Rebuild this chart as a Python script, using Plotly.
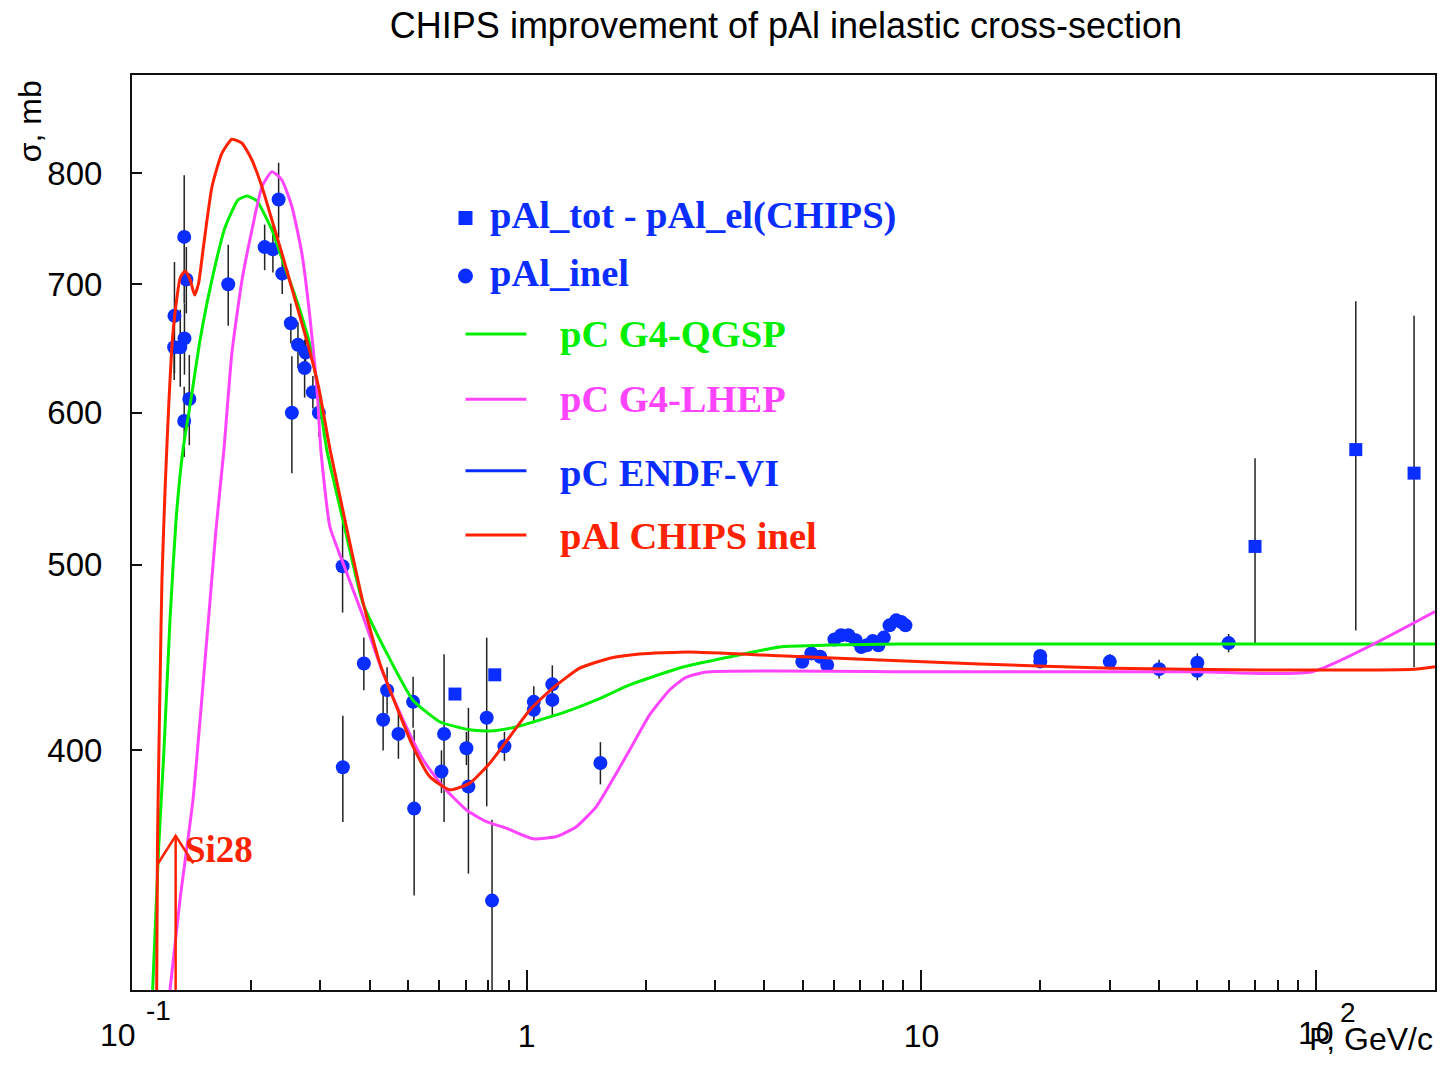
import math
import plotly.graph_objects as go

# ---------------- data ----------------
# pAl_inel measurements (circles): momentum P [GeV/c], sigma [mb], error [mb]
inel_p = [0.1281, 0.1279, 0.1325, 0.1356, 0.1373, 0.1358, 0.1397, 0.1356,
          0.1753, 0.2168, 0.2275, 0.2352, 0.2402, 0.2526, 0.2633, 0.2753,
          0.2737, 0.2872, 0.2974, 0.2541,
          0.3416, 0.3421, 0.3867, 0.4429, 0.4327, 0.4731, 0.5154, 0.5185,
          0.6174, 0.6081, 0.7034, 0.7117, 0.7918, 0.8168, 0.878, 1.042,
          1.042, 1.161, 1.161, 1.537,
          4.99, 5.26, 5.54, 5.77, 6.02, 6.26, 6.53, 6.81, 7.04, 7.27, 7.53,
          7.78, 8.03, 8.30, 8.63, 8.89, 9.11,
          20, 20, 30, 40, 50, 50, 60]
inel_sigma = [674, 649, 649, 741, 704, 656, 610, 594,
              700, 732, 730, 775, 709, 668, 651, 645,
              633, 615, 600, 600,
              499, 392, 444, 430, 415, 408, 424, 373,
              408, 390, 401, 383, 416, 334, 402, 424,
              420, 433, 425, 394,
              444.9, 449.4, 447.6, 443.2, 457.0, 459.3, 459.3, 456.6, 452.9,
              453.8, 456.2, 453.8, 458.0, 464.8, 467.6, 466.7, 464.8,
              448, 445, 445, 441, 444.4, 440.1, 455]
inel_err = [45, 25, 30, 57, 28, 28, 33, 25,
            34, 20, 20, 35, 17, 16, 18, 15,
            22, 12, 17, 42,
            27, 25, 14, 12, 15, 12, 13, 37,
            41, 10, 8, 38, 42, 34, 7, 8,
            6, 10, 8, 10,
            2, 2, 2, 2, 2, 2, 2, 2, 2, 2, 2, 2, 2, 2, 2, 2, 2,
            3, 3, 4, 5, 5, 5, 5]

# pAl_tot - pAl_el(CHIPS) (squares)
totel_p = [0.658, 0.830, 70, 126, 177]
totel_sigma = [428, 438, 511, 574, 558]
totel_err = [0, 0, 57, 112, 116]

# pC G4-QGSP (green)
qgsp_p = [0.1128, 0.1168, 0.1205, 0.1248, 0.1293, 0.1346, 0.1410, 0.1487,
          0.1594, 0.1719, 0.1855, 0.1955, 0.2073, 0.2262, 0.2439, 0.2648,
          0.2856, 0.3116, 0.3422, 0.3844, 0.4421, 0.5145, 0.6021, 0.7173,
          0.8203, 0.9434, 1.0416, 1.2334, 1.5037, 1.823, 2.439, 3.265,
          4.371, 5.848, 8.795, 20, 50, 100, 200]
qgsp_sigma = [300, 355.8, 400.2, 467.8, 527.6, 573.7, 609.3, 654.6,
              703.7, 748.9, 774.5, 778.3, 773.6, 747.2, 714.7, 681.1,
              644.7, 573.7, 527.6, 477.5, 449.5, 425.0, 414.0, 410.0,
              409.5, 411.5, 414.0, 418.4, 425.0, 432.7, 441.6, 447.5,
              452.9, 453.9, 454.5, 454.5, 454.5, 454.5, 454.5]

# pC G4-LHEP (magenta)
lhep_p = [0.1248, 0.1323, 0.1427, 0.1539, 0.1632, 0.1709, 0.1791, 0.19,
          0.2013, 0.2134, 0.2262, 0.2397, 0.2542, 0.2694, 0.2828, 0.2939,
          0.3009, 0.3172, 0.3427, 0.3851, 0.4327, 0.486, 0.5464, 0.6139,
          0.7034, 0.7907, 0.8884, 1.0373, 1.189, 1.3361, 1.5013, 1.6871,
          1.823, 2.048, 2.301, 2.512, 2.822, 10, 50, 97.7, 200]
lhep_sigma = [300, 334.3, 376.9, 451.2, 521.2, 573.7, 644.7, 703.7,
              747.2, 787, 801.4, 793.4, 768.3, 726.4, 670.8, 619,
              573.7, 523.2, 500.7, 469.7, 438.8, 414.9, 395.5, 382.9,
              372.4, 367.2, 364.3, 359.7, 360.7, 365.0, 373.9, 389.2,
              400.2, 417.4, 430.1, 436.3, 439.4, 439.6, 439.6, 439.6, 472.5]

# pAl CHIPS inel (red)
chips_p = [0.1155, 0.1160, 0.1168, 0.1179, 0.1191, 0.1214, 0.1239, 0.1263,
           0.1287, 0.1325, 0.1364, 0.1404, 0.1441, 0.1475, 0.1519, 0.1594,
           0.169, 0.1791, 0.19, 0.2013, 0.2134, 0.2262, 0.2397, 0.2591,
           0.2801, 0.2969, 0.3177, 0.3462, 0.3851, 0.4244, 0.4679, 0.5155,
           0.568, 0.6386, 0.7173, 0.806, 0.9058, 1.0177, 1.1618, 1.362,
           1.6223, 1.932, 2.586, 4.371, 14.02, 30.44, 71.74, 177.1, 200]
chips_sigma = [300, 355.8, 391.6, 438.9, 491.3, 550.1, 605.5, 651.5,
               678, 705.5, 711.3, 703.7, 691, 701.1, 733.8, 786.8,
               819.5, 833.2, 829.2, 812.7, 787, 756.2, 726.7, 686.9,
               649.4, 619, 573.7, 527.6, 477.5, 444.2, 421.6, 401.8,
               387.6, 381.5, 384.6, 393.9, 406.6, 419.9, 430.9, 441.5,
               446.8, 449.1, 450.2, 448.1, 443.7, 441.5, 440.6, 440.9, 442.3]

# Si28 threshold arrow
si28_p = [0.129]
si28_tip_sigma = [361]
si28_wing_p = [0.1165, 0.143]
si28_wing_sigma = [349.3]

# axes
x_range = [0.1, 200]
y_range = [300, 900]
x_major = [0.1, 1, 10, 100]
x_major_text = ["", "1", "10", ""]       # 10^-1 and 10^2 drawn ROOT-style below
x_minor = [0.2, 0.3, 0.4, 0.5, 0.6, 0.7, 0.8, 0.9,
           2, 3, 4, 5, 6, 7, 8, 9, 20, 30, 40, 50, 60, 70, 80, 90]
y_major = [400, 500, 600, 700, 800]

# ---------------- styling ----------------
BLUE = "#0a2eff"
GREEN = "#00ee00"
MAGENTA = "#ff44ff"
RED = "#ff2200"
SANS = "Liberation Sans, Arial, sans-serif"
SERIF = "Liberation Serif, Times New Roman, serif"

fig = go.Figure()

fig.add_trace(go.Scatter(
    x=inel_p, y=inel_sigma, mode="markers",
    marker=dict(symbol="circle", size=14, color=BLUE, line=dict(width=0)),
    error_y=dict(type="data", array=inel_err, visible=True, thickness=1.5,
                 width=0, color="#222222"),
    name="pAl_inel", showlegend=False))

fig.add_trace(go.Scatter(
    x=totel_p, y=totel_sigma, mode="markers",
    marker=dict(symbol="square", size=13, color=BLUE, line=dict(width=0)),
    error_y=dict(type="data", array=totel_err, visible=True, thickness=1.5,
                 width=0, color="#222222"),
    name="pAl_tot - pAl_el(CHIPS)", showlegend=False))

for xs, ys, col, nm in [(qgsp_p, qgsp_sigma, GREEN, "pC G4-QGSP"),
                        (lhep_p, lhep_sigma, MAGENTA, "pC G4-LHEP"),
                        (chips_p, chips_sigma, RED, "pAl CHIPS inel")]:
    fig.add_trace(go.Scatter(
        x=xs, y=ys, mode="lines",
        line=dict(color=col, width=3, shape="spline", smoothing=0.5),
        name=nm, showlegend=False))

# Si28 arrow
arrow_x = [si28_p[0], si28_p[0], None, si28_wing_p[0], si28_p[0], si28_wing_p[1]]
arrow_y = [y_range[0], si28_tip_sigma[0], None, si28_wing_sigma[0],
           si28_tip_sigma[0], si28_wing_sigma[0]]
fig.add_trace(go.Scatter(x=arrow_x, y=arrow_y, mode="lines",
                         line=dict(color=RED, width=2.5), showlegend=False,
                         hoverinfo="skip"))

# ---------------- layout ----------------
L, T, W, H = 132, 75, 1305, 915


def fx(px):
    return (px - L) / W


def fy(py):
    return (T + H - py) / H


shapes = []
annotations = []

# legend
legend_lines = [(334, GREEN), (399.3, MAGENTA), (470.7, BLUE), (535, RED)]
for yy, col in legend_lines:
    shapes.append(dict(type="line", xref="paper", yref="paper",
                       x0=fx(466), x1=fx(527), y0=fy(yy), y1=fy(yy),
                       line=dict(color=col, width=3)))
shapes.append(dict(type="rect", xref="paper", yref="paper",
                   x0=fx(459), x1=fx(473), y0=fy(225), y1=fy(211),
                   fillcolor=BLUE, line=dict(width=0)))
shapes.append(dict(type="circle", xref="paper", yref="paper",
                   x0=fx(458.5), x1=fx(473.5), y0=fy(283.5), y1=fy(268.5),
                   fillcolor=BLUE, line=dict(width=0)))

legend_texts = [("pAl_tot - pAl_el(CHIPS)", 489, 216, BLUE),
                ("pAl_inel", 489, 272.5, BLUE),
                ("pC G4-QGSP", 559, 334, GREEN),
                ("pC G4-LHEP", 559, 399, MAGENTA),
                ("pC ENDF-VI", 559, 472.5, BLUE),
                ("pAl CHIPS inel", 559, 535.5, RED)]
for txt, xx, yy, col in legend_texts:
    annotations.append(dict(text=txt, xref="paper", yref="paper",
                            x=fx(xx), y=fy(yy), xanchor="left", yanchor="middle",
                            showarrow=False,
                            font=dict(family=SERIF, size=38.5, color=col,
                                      weight="bold")))

annotations.append(dict(text="Si28", xref="paper", yref="paper",
                        x=fx(183), y=fy(849), xanchor="left", yanchor="middle",
                        showarrow=False,
                        font=dict(family=SERIF, size=37, color=RED,
                                  weight="bold")))

# axis titles
annotations.append(dict(text="σ, mb", xref="paper", yref="paper",
                        x=fx(30), y=fy(121), xanchor="center", yanchor="middle",
                        textangle=-90, showarrow=False,
                        font=dict(family=SANS, size=32, color="black")))
annotations.append(dict(text="P, GeV/c", xref="paper", yref="paper",
                        x=fx(1437), y=fy(1039), xanchor="right",
                        yanchor="middle", showarrow=False,
                        font=dict(family=SANS, size=32, color="black")))

# ROOT-style power-of-ten tick labels (base + raised exponent)
power_labels = [("10", 118, 1035, 32), ("-1", 158.5, 1010, 28),
                ("10", 1317.5, 1033, 32), ("2", 1350, 1012, 28)]
for txt, xx, yy, sz in power_labels:
    annotations.append(dict(text=txt, xref="paper", yref="paper",
                            x=fx(xx), y=fy(yy), xanchor="center",
                            yanchor="middle", showarrow=False,
                            font=dict(family=SANS, size=sz, color="black")))

fig.update_layout(
    width=1444, height=1074,
    margin=dict(l=L, r=1444 - L - W, t=T, b=1074 - T - H),
    paper_bgcolor="white", plot_bgcolor="white",
    title=dict(text="CHIPS improvement of pAl inelastic cross-section",
               x=786 / 1444, y=1 - 25 / 1074, xanchor="center",
               yanchor="middle",
               font=dict(family=SANS, size=36, color="black")),
    shapes=shapes, annotations=annotations,
    showlegend=False,
)

fig.update_xaxes(
    type="log", range=[math.log10(x_range[0]), math.log10(x_range[1])],
    showline=True, linecolor="#111111", linewidth=2, mirror=True,
    showgrid=False, zeroline=False,
    ticks="inside", ticklen=20, tickwidth=1.5, tickcolor="#111111",
    tickvals=x_major, ticktext=x_major_text, ticklabelstandoff=17,
    tickfont=dict(family=SANS, size=32, color="black"),
    minor=dict(ticks="inside", ticklen=10, tickwidth=1.5,
               tickcolor="#111111", tickvals=x_minor, showgrid=False),
)
fig.update_yaxes(
    type="log", range=[math.log10(y_range[0]), math.log10(y_range[1])],
    showline=True, linecolor="#111111", linewidth=2, mirror=True,
    showgrid=False, zeroline=False,
    ticks="inside", ticklen=10, tickwidth=1.5, tickcolor="#111111",
    tickvals=y_major, ticktext=[str(v) for v in y_major],
    ticklabelstandoff=21,
    tickfont=dict(family=SANS, size=33, color="black"),
)

fig.write_html("out.html")
